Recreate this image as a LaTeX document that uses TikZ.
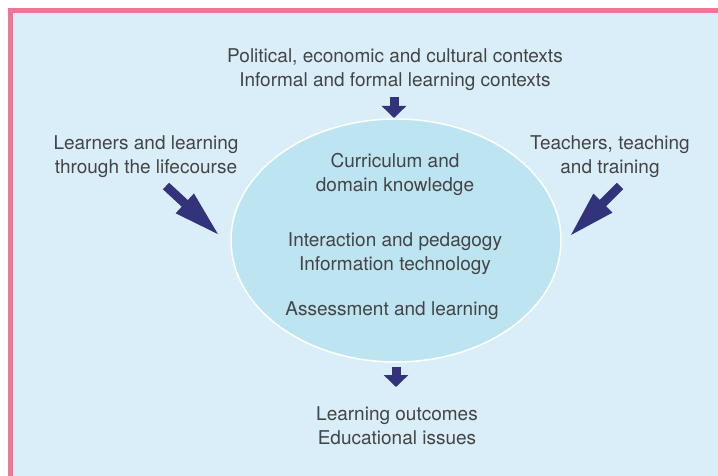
\documentclass[tikz,border=0pt]{standalone}
\usepackage{fontspec}
\setmainfont{TeX Gyre Heros}
\usepackage{tikz}
\usetikzlibrary{arrows.meta,shapes.geometric,positioning}
\definecolor{paneblue}{HTML}{D9EEF9}
\definecolor{coreblue}{HTML}{BDE4F1}
\definecolor{framepink}{HTML}{F27396}
\definecolor{arrowblue}{HTML}{32337A}
\definecolor{labelgray}{HTML}{444444}
\tikzset{
  label text/.style={align=center, inner sep=0pt, text=labelgray, font=\fontsize{19}{24}\selectfont},
  corearea/.style={ellipse, draw=white, line width=1.5pt, fill=coreblue, minimum width=330pt, minimum height=243pt, inner sep=0pt},
  diagarrow/.style={draw=arrowblue, line width=9pt, -{Triangle[width=24pt,length=48pt]}},
  straightarrow/.style={draw=arrowblue, line width=9pt, -{Triangle[width=24pt,length=12pt]}}
}

\begin{document}
\begin{tikzpicture}[x=1pt, y=-1pt]
  \useasboundingbox (0,0) rectangle (718,476);
  % background and frame
  \fill[paneblue] (10,10) rectangle (718,476);
  \draw[framepink, line width=5pt] (718,10.5) -| (10.5,476);

  \node[corearea] (core) at (396,240.5) {};

  \node[label text] (contexts) at (395,70) {Political, economic and cultural contexts\\Informal and formal learning contexts};
  \node[label text] (learners) at (146,157) {Learners and learning\\through the lifecourse};
  \node[label text] (teachers) at (610,157) {Teachers, teaching\\and training};
  \node[label text] (curriculum) at (395,174) {Curriculum and\\domain knowledge};
  \node[label text] (interaction) at (395,254) {Interaction and pedagogy\\Information technology};
  \node[label text] (assessment) at (392,311) {Assessment and learning};
  \node[label text] (outcomes) at (397,426) {Learning outcomes\\Educational issues};

  % arrow ends
  \coordinate (topstart) at (394,97);
  \coordinate (toptip) at (394,118);
  \coordinate (leftstart) at (166,186);
  \coordinate (lefttip) at (220,236);
  \coordinate (rightstart) at (620,186);
  \coordinate (righttip) at (569,237);
  \coordinate (botstart) at (396,367);
  \coordinate (bottip) at (396,387);

  \draw[straightarrow] (topstart) -- (toptip);
  \draw[diagarrow] (leftstart) -- (lefttip);
  \draw[diagarrow] (rightstart) -- (righttip);
  \draw[straightarrow] (botstart) -- (bottip);
\end{tikzpicture}
\end{document}
